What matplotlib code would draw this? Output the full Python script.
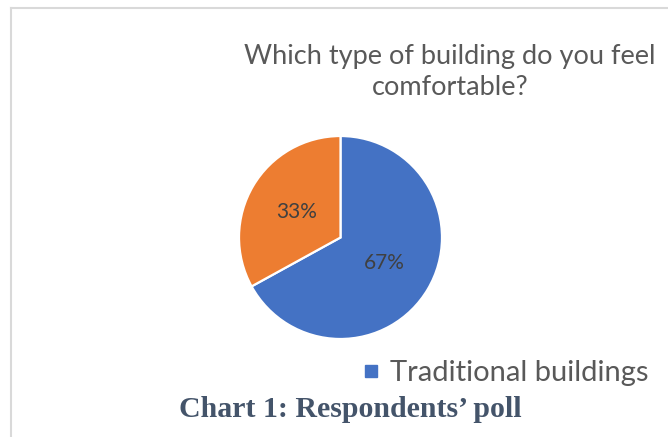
import matplotlib.pyplot as plt
from matplotlib.lines import Line2D

# poll answers
labels = ["Traditional buildings", "Modern buildings"]
shares = [67, 33]
colors = ["#4472C4", "#ED7D31"]

title = "Which type of building do you feel\ncomfortable?"
caption = "Chart 1: Respondents\u2019 poll"

W, H = 668, 437
fig = plt.figure(figsize=(W / 100, H / 100), dpi=100)

# light frame on top and left
fig.add_artist(Line2D([11 / W, 11 / W], [0, 1 - 8 / H], color="#d9d9d9", lw=1.5))
fig.add_artist(Line2D([11 / W, 1], [1 - 8 / H, 1 - 8 / H], color="#d9d9d9", lw=1.5))

fig.text(450 / W, 1 - 95 / H, title, ha="center", va="baseline", fontsize=19.5,
         family="Lato", color="#595959", linespacing=1.3, multialignment="center")

# pie centred around (340, 237) px, radius ~102 px
ax = fig.add_axes([238 / W, 1 - 340 / H, 205 / W, 205 / H])
wedges, texts, pcts = ax.pie(shares, colors=colors, startangle=90, counterclock=False,
                             autopct="%1.0f%%", pctdistance=0.5,
                             wedgeprops=dict(edgecolor="white", linewidth=1.6),
                             textprops=dict(fontsize=15, family="Lato", color="#404040"))
ax.set_xlim(-1.01, 1.01)
ax.set_ylim(-1.01, 1.01)

handle = Line2D([], [], marker="s", ls="", color=colors[0], markersize=9)
fig.legend([handle], [labels[0]], loc="lower left", bbox_to_anchor=(359 / W, 1 - 386 / H),
           frameon=False, prop=dict(family="Lato", size=21), labelcolor="#595959",
           handlelength=0.8, handletextpad=0.25, borderpad=0, borderaxespad=0)

fig.text(350 / W, 1 - 417 / H, caption, ha="center", va="baseline", fontsize=21.5,
         family="Liberation Serif", weight="bold", color="#44546A")

fig.savefig("out.png", dpi=100)
